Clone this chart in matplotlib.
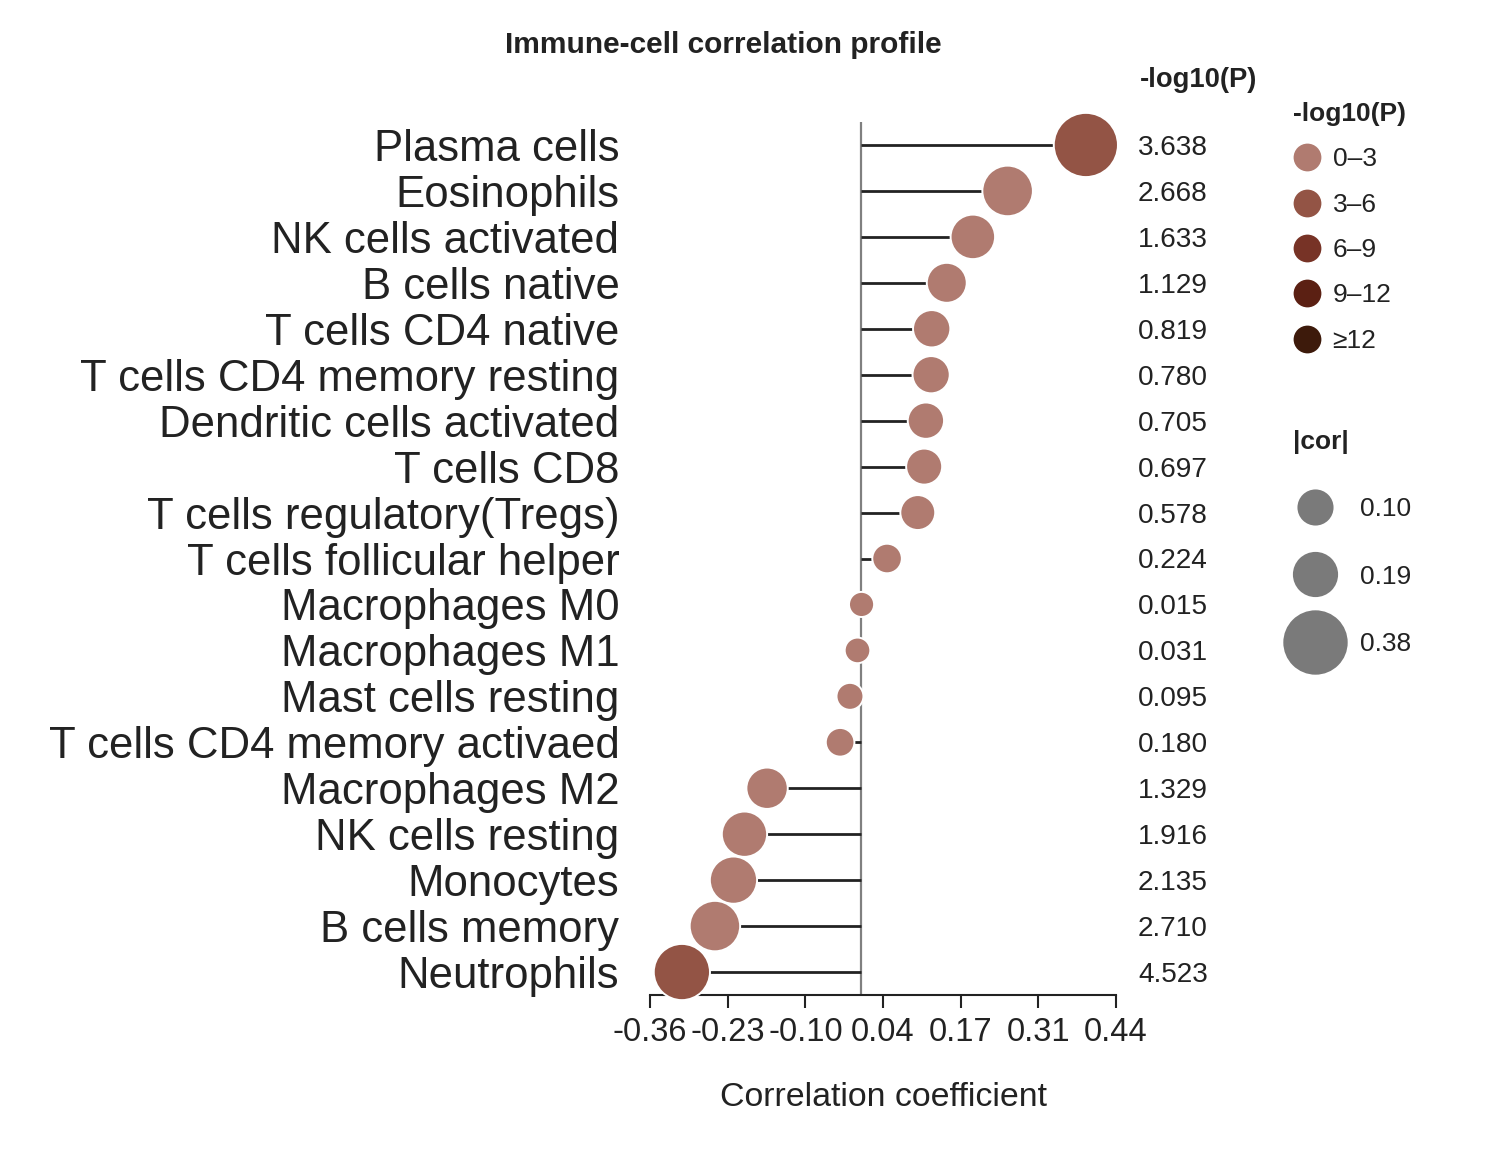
import numpy as np
import matplotlib
matplotlib.use('Agg')
import matplotlib.pyplot as plt
from matplotlib.lines import Line2D
from matplotlib.transforms import blended_transform_factory

plt.rcParams['font.family'] = ['Liberation Sans', 'DejaVu Sans']

cells = ['Plasma cells', 'Eosinophils', 'NK cells activated', 'B cells native',
         'T cells CD4 native', 'T cells CD4 memory resting', 'Dendritic cells activated',
         'T cells CD8', 'T cells regulatory(Tregs)', 'T cells follicular helper',
         'Macrophages M0', 'Macrophages M1', 'Mast cells resting',
         'T cells CD4 memory activaed', 'Macrophages M2', 'NK cells resting',
         'Monocytes', 'B cells memory', 'Neutrophils']
cor = [0.388, 0.253, 0.193, 0.148, 0.122, 0.121, 0.112, 0.109, 0.098, 0.045,
       0.001, -0.006, -0.019, -0.036, -0.162, -0.201, -0.220, -0.252, -0.309]
logp = [3.638, 2.668, 1.633, 1.129, 0.819, 0.780, 0.705, 0.697, 0.578, 0.224,
        0.015, 0.031, 0.095, 0.180, 1.329, 1.916, 2.135, 2.710, 4.523]

bin_labels = ['0\u20133', '3\u20136', '6\u20139', '9\u201312', '\u226512']
bin_edges = [3, 6, 9, 12]
bin_colors = ['#b07b70', '#935445', '#773326', '#5b2013', '#3d1a0b']
size_breaks = [0.10, 0.19, 0.38]

TXT = '#222222'


def diam_px(c):
    # dot diameter in pixels grows linearly with |cor|
    return 25 + 101 * abs(c)


def color_for(v):
    return bin_colors[int(np.digitize(v, bin_edges))]


fig = plt.figure(figsize=(15.04, 11.68), dpi=100)
ax = fig.add_axes([650 / 1504, 1 - 995 / 1168, 466 / 1504, 873 / 1168])

n = len(cells)
y = np.arange(n)
cols = [color_for(v) for v in logp]
sizes = [(diam_px(c) * 0.72) ** 2 for c in cor]

ax.axvline(0, color='#808080', lw=1.6, zorder=1)
ax.hlines(y, 0, cor, color=TXT, lw=2.0, zorder=2)
ax.scatter(cor, y, s=sizes, c=cols, edgecolors='white', linewidths=1.4, zorder=3,
           clip_on=False)

ax.set_ylim(n - 0.5, -0.5)
ax.set_xlim(-0.364, 0.44)
ticks = np.linspace(-0.364, 0.44, 7)
ax.set_xticks(ticks)
ax.set_xticklabels([f'{t:.2f}' for t in ticks], fontsize=23.5, color=TXT)
ax.set_yticks(y)
ax.set_yticklabels(cells, fontsize=31.5, color=TXT)
ax.tick_params(axis='y', length=0, pad=22)
ax.tick_params(axis='x', length=9, width=1.5, color=TXT, pad=7)
for s in ['top', 'right', 'left']:
    ax.spines[s].set_visible(False)
ax.spines['bottom'].set_color(TXT)
ax.spines['bottom'].set_linewidth(1.5)
ax.set_xlabel('Correlation coefficient', fontsize=24.4, color=TXT, labelpad=24)

tr = blended_transform_factory(ax.transAxes, ax.transData)
for yi, v in zip(y, logp):
    ax.text(1.047, yi, f'{v:.3f}', transform=tr, ha='left', va='center_baseline',
            fontsize=20.2, color=TXT)
ax.text(1.051, 1.048, '-log10(P)', transform=ax.transAxes, ha='left', va='center',
        fontsize=19.7, fontweight='bold', color=TXT)

fig.text(723 / 1504, 1 - 45 / 1168, 'Immune-cell correlation profile', ha='center',
         va='center', fontsize=21.5, fontweight='bold', color=TXT)

# colour legend
col_handles = [Line2D([], [], ls='none', marker='o', markersize=20, markerfacecolor=c,
                      markeredgecolor='none') for c in bin_colors]
leg1 = fig.legend(col_handles, bin_labels, loc='upper left',
                  bbox_to_anchor=(1293 / 1504, 1 - 102 / 1168), frameon=False,
                  title='-log10(P)', alignment='left', fontsize=19,
                  title_fontproperties={'weight': 'bold', 'size': 19},
                  borderpad=0, borderaxespad=0, handlelength=1.08,
                  handletextpad=0.42, labelspacing=0.81, labelcolor=TXT)
leg1.get_title().set_color(TXT)

# size legend
size_handles = [Line2D([], [], ls='none', marker='o',
                       markersize=(diam_px(v) + 1) * 0.72,
                       markerfacecolor='#7a7a7a', markeredgecolor='none')
                for v in size_breaks]
leg2 = fig.legend(size_handles, [f'{v:.2f}' for v in size_breaks], loc='upper left',
                  bbox_to_anchor=(1293 / 1504, 1 - 430 / 1168), frameon=False,
                  title='|cor|', alignment='left', fontsize=19,
                  title_fontproperties={'weight': 'bold', 'size': 19},
                  borderpad=0, borderaxespad=0, handlelength=1.65,
                  handletextpad=0.89, labelspacing=1.64, labelcolor=TXT)
leg2.get_title().set_color(TXT)

fig.savefig('out.png', dpi=100)
